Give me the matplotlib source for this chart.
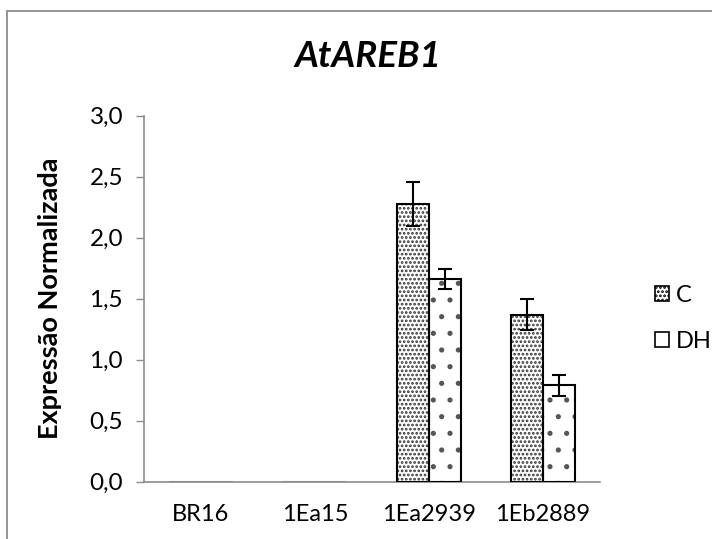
import matplotlib
matplotlib.use("Agg")
import matplotlib.pyplot as plt
from matplotlib.patches import Rectangle, Patch
import numpy as np

categories = ["BR16", "1Ea15", "1Ea2939", "1Eb2889"]
c_vals = [0.0, 0.0, 2.28, 1.37]
c_err = [0.0, 0.0, 0.18, 0.13]
dh_vals = [0.0, 0.0, 1.66, 0.79]
dh_err = [0.0, 0.0, 0.08, 0.085]
yticks = [0.0, 0.5, 1.0, 1.5, 2.0, 2.5, 3.0]

FONT = ["Lato", "DejaVu Sans"]
plt.rcParams["font.family"] = FONT
plt.rcParams["hatch.linewidth"] = 1.3

AX_GREY = "#8c8c8c"
C_HATCH = "...."
DH_HATCH = "."

fig = plt.figure(figsize=(7.12, 5.39), dpi=100)
ax = fig.add_axes([144/712, 1 - 481.7/539, 456/712, 366/539])

x = np.arange(len(categories))
w = 0.284

def draw(xs, vals, hatch, hatch_col):
    # pattern layer, then black outline on top
    ax.bar(xs, vals, w, facecolor="white", edgecolor=hatch_col, hatch=hatch, linewidth=0, zorder=2)
    edges = ["black" if v > 0 else AX_GREY for v in vals]
    ax.bar(xs, vals, w, fill=False, edgecolor=edges, linewidth=1.5, zorder=3)

draw(x - w/2, c_vals, C_HATCH, "#333333")
draw(x + w/2, dh_vals, DH_HATCH, "#555555")

for xs, vals, errs in [(x - w/2, c_vals, c_err), (x + w/2, dh_vals, dh_err)]:
    m = np.array(vals) > 0
    ax.errorbar(xs[m], np.array(vals)[m], yerr=np.array(errs)[m], fmt="none",
                ecolor="black", elinewidth=1.5, capsize=5, capthick=1.5, zorder=4)

ax.set_xlim(-0.5, len(categories) - 0.5)
ax.set_ylim(0, 3.0)
ax.set_yticks(yticks)
ax.set_yticklabels([f"{v:.1f}".replace(".", ",") for v in yticks], fontsize=17.5)
ax.set_xticks(x)
ax.set_xticklabels(categories, fontsize=17)
ax.tick_params(axis="x", length=0, pad=16)
ax.tick_params(axis="y", length=6, width=1, color=AX_GREY, pad=9)
for s in ["top", "right"]:
    ax.spines[s].set_visible(False)
for s in ["left", "bottom"]:
    ax.spines[s].set_color(AX_GREY)
    ax.spines[s].set_linewidth(1.2)

ax.set_ylabel("Expressão Normalizada", fontsize=19.5, fontweight="bold")
ax.yaxis.set_label_coords(-0.179, 0.5)

fig.text(367.5/712, 1 - 56.7/539, "AtAREB1", fontsize=26.5, fontweight="bold",
         fontstyle="italic", ha="center", va="center")

handles = [Patch(facecolor="white", edgecolor="black", hatch=C_HATCH, linewidth=1.2),
           Patch(facecolor="white", edgecolor="black", linewidth=1.2)]
leg = fig.legend(handles, ["C", "DH"], loc="center left", borderpad=0,
                 bbox_to_anchor=(643/712, 1 - 318.5/539), frameon=False, fontsize=17,
                 handlelength=0.6, handleheight=0.6, handletextpad=0.3, labelspacing=1.05)

# outer chart frame (cut off at right/bottom like the reference)
fig.patches.append(Rectangle((7/712, -0.1), 1.2, 1 - 10.7/539 + 0.1, transform=fig.transFigure,
                             fill=False, edgecolor=AX_GREY, linewidth=1.3))

fig.savefig("out.png", dpi=100)
